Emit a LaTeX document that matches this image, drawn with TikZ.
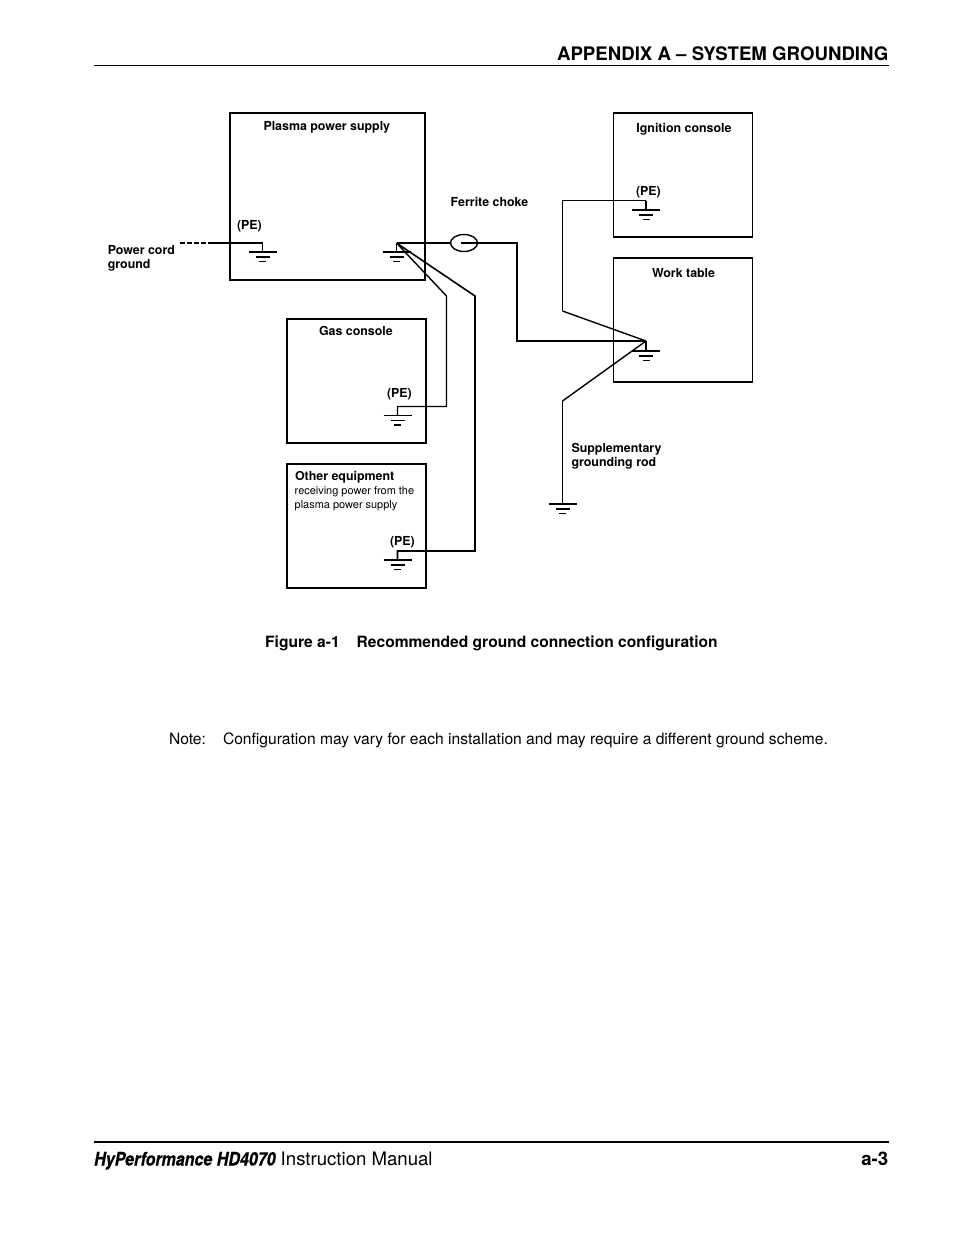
\documentclass[tikz,border=0pt]{standalone}
\usepackage{fontspec}
\usetikzlibrary{shapes.geometric}
\setmainfont{TeX Gyre Heros}
\begin{document}
\begin{tikzpicture}[x=1pt,y=-1pt,
  box/.style={draw=black,line width=1.4pt,fill=none,inner sep=0pt,outer sep=0pt},
  boxthin/.style={draw=black,line width=1.2pt,inner sep=0pt,outer sep=0pt},
  heavywire/.style={draw=black,line width=1.9pt},
  lightwire/.style={draw=black,line width=1.1pt},
  midwire/.style={draw=black,line width=1.4pt},
  lbl/.style={font=\fontsize{12.4}{14}\selectfont\bfseries,inner sep=0pt,anchor=base west,align=left},
  small/.style={font=\fontsize{10.95}{14}\selectfont,inner sep=0pt,anchor=base west},
  headtext/.style={font=\fontsize{18.65}{22}\selectfont\bfseries,inner sep=0pt},
  captext/.style={font=\fontsize{15.58}{18}\selectfont\bfseries,inner sep=0pt,anchor=base west},
  notetext/.style={font=\fontsize{15.62}{18}\selectfont,inner sep=0pt,anchor=base west},
  gndsym/.pic={
    \draw[line width=1.2pt] (-14,0) -- (14,0);
    \draw[line width=1.3pt] (-7,5) -- (7,5);
    \draw[line width=1.7pt] (-3.5,9.5) -- (3.5,9.5);
  }]
\useasboundingbox (0,0) rectangle (954,1235);
\fill[white] (0,0) rectangle (954,1235);

% header and footer
\node[headtext,anchor=base east] (title) at (888.5,60) {APPENDIX A -- SYSTEM GROUNDING};
\coordinate (hl) at (94,65.5); \coordinate (hr) at (889,65.5);
\draw[line width=0.9pt] (hl) -- (hr);
\coordinate (fl) at (94,1142); \coordinate (fr) at (889,1142);
\draw[line width=2pt] (fl) -- (fr);
\node[inner sep=0pt,anchor=base west] (manual) at (94,1165.5)
  {\fontsize{18.6}{22}\selectfont{\bfseries\itshape\addfontfeatures{FakeStretch=0.862,FakeBold=0.5}HyPerformance HD4070} Instruction Manual};
\node[headtext,anchor=base east] (pageno) at (888.5,1165.5) {a-3};

% boxes
\node[box,minimum width=195pt,minimum height=167pt] (plasma) at (327.5,196.5) {};
\node[boxthin,minimum width=139pt,minimum height=124pt] (ignition) at (682.8,175) {};
\node[boxthin,minimum width=139pt,minimum height=124pt] (work) at (682.8,320) {};
\node[boxthin,minimum width=139pt,minimum height=124pt] (gas) at (356.5,381) {};
\node[boxthin,minimum width=139pt,minimum height=124pt] (other) at (356.5,526) {};

% box labels
\node[lbl] (lplasma) at (263.3,130) {Plasma power supply};
\node[lbl] (lign) at (636.2,132) {Ignition console};
\node[lbl] (lwork) at (651.8,277) {Work table};
\node[lbl] (lgas) at (318.8,335) {Gas console};
\node[lbl] (lother) at (294.8,480) {Other equipment};
\node[small] (lother2) at (294.5,494.5) {receiving power from the};
\node[small] (lother3) at (294.5,508.5) {plasma power supply};
\node[lbl] (pe1) at (236.8,229) {(PE)};
\node[lbl] (pe2) at (635.8,195) {(PE)};
\node[lbl] (pe3) at (386.8,397) {(PE)};
\node[lbl] (pe4) at (389.8,545) {(PE)};
\node[lbl] (lcord) at (107.6,254) {Power cord};
\node[lbl] (lcord2) at (107.6,268) {ground};
\node[lbl] (lferr) at (450.5,206) {Ferrite choke};
\node[lbl] (lsup) at (571.3,452) {Supplementary};
\node[lbl] (lsup2) at (571.3,466) {grounding rod};

% ferrite choke
\node[draw=black,line width=1.4pt,ellipse,minimum width=27pt,minimum height=17pt,inner sep=0pt,outer sep=0pt] (choke) at (464,243) {};

% junctions and bends
\coordinate (cordstart) at (180,243);
\coordinate (corddash) at (208,243);
\coordinate (pecorner) at (262.5,243);
\coordinate (g1) at (262.5,252);
\coordinate (jp) at (396.5,243);
\coordinate (g2) at (396.5,252);
\coordinate (chokein) at (461,243);
\coordinate (b1) at (517,243);
\coordinate (b2) at (517,341);
\coordinate (jw) at (646,341);
\coordinate (g3) at (646,351);
\coordinate (a1) at (446.5,296);
\coordinate (a2) at (446.5,406.5);
\coordinate (a3) at (397.5,406.5);
\coordinate (g4) at (397.5,415.5);
\coordinate (c1) at (475,296);
\coordinate (c2) at (475,551);
\coordinate (c3) at (397.5,551);
\coordinate (g5) at (397.5,560);
\coordinate (i1) at (646,200.5);
\coordinate (g6) at (646,210);
\coordinate (i2) at (562.5,200.5);
\coordinate (i3) at (562.5,311);
\coordinate (r1) at (562.5,401);
\coordinate (g7) at (562.5,504);

% wires
\draw[heavywire,dash pattern=on 5pt off 2pt] (cordstart) -- (corddash);
\draw[heavywire] (corddash) -- (pecorner);
\draw[lightwire] (pecorner) -- (g1);
\draw[heavywire] (jp) -- (choke.west);
\draw[heavywire] (jp) -- (g2);
\draw[heavywire] (chokein) -- (b1) -- (b2) -- (jw);
\draw[heavywire] (jw) -- (g3);
\draw[midwire] (jp) -- (a1) -- (a2) -- (a3) -- (g4);
\draw[midwire,line width=1.6pt] (jp) -- (c1) -- (c2) -- (c3) -- (g5);
\draw[midwire] (g6) -- (i1);
\draw[lightwire] (i1) -- (i2) -- (i3);
\draw[midwire] (i3) -- (jw);
\draw[midwire] (jw) -- (r1);
\draw[lightwire] (r1) -- (g7);

% ground symbols
\pic at (g1) {gndsym};
\pic at (g2) {gndsym};
\pic at (g3) {gndsym};
\draw[line width=1.8pt] ([xshift=-14pt]g3) -- ([xshift=14pt]g3);
\pic at (g4) {gndsym};
\pic at (g5) {gndsym};
\pic at (g6) {gndsym};
\pic at (g7) {gndsym};

% caption and note
\node[captext] (cap1) at (265,647) {Figure a-1};
\node[captext] (cap2) at (356.5,647) {Recommended ground connection configuration};
\node[notetext] (note1) at (168.8,744) {Note:};
\node[notetext] (note2) at (222.8,744) {Configuration may vary for each installation and may require a different ground scheme.};
\end{tikzpicture}
\end{document}
